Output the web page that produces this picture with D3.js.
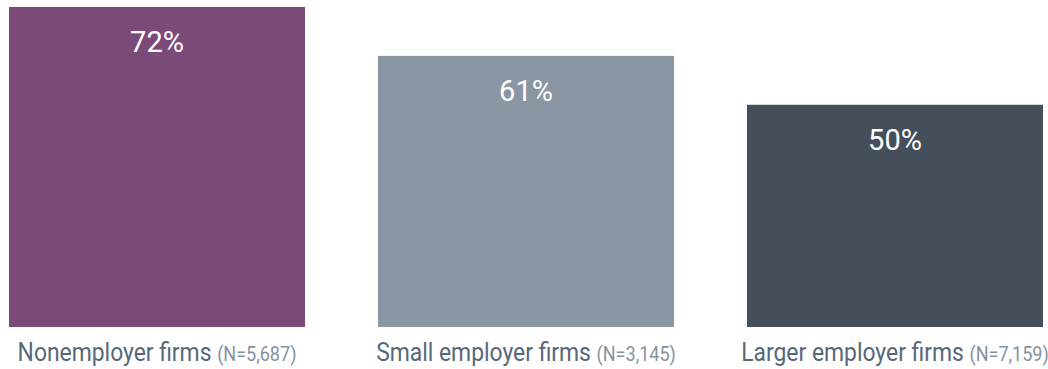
<!DOCTYPE html>
<html>
<head>
<meta charset="utf-8">
<script src="https://cdn.jsdelivr.net/npm/d3@7"></script>
<style>
  html, body { margin: 0; padding: 0; background: #ffffff; }
  svg { display: block; }
</style>
</head>
<body>
<svg id="chart" width="1048" height="369"></svg>
<script>
// Share of firms by employer size
const categories = ["Nonemployer firms", "Small employer firms", "Larger employer firms"];
const sampleSizes = ["(N=5,687)", "(N=3,145)", "(N=7,159)"];
const values = [72, 61, 50];
const colors = ["#7b4a78", "#8a96a3", "#444f5b"];

const svg = d3.select("#chart");

const x = d3.scaleBand()
  .domain(categories)
  .range([9, 1043])
  .paddingInner(73 / 369)
  .paddingOuter(0);

const y = d3.scaleLinear()
  .domain([0, 72])
  .range([327, 7]);

const data = categories.map((c, i) => ({ cat: c, n: sampleSizes[i], v: values[i], color: colors[i] }));

svg.selectAll("rect.bar")
  .data(data)
  .join("rect")
  .attr("class", "bar")
  .attr("x", d => x(d.cat))
  .attr("y", d => y(d.v))
  .attr("width", x.bandwidth())
  .attr("height", d => y(0) - y(d.v))
  .attr("fill", d => d.color);

svg.selectAll("text.value")
  .data(data)
  .join("text")
  .attr("class", "value")
  .attr("x", d => x(d.cat) + x.bandwidth() / 2)
  .attr("y", d => y(d.v) + 45)
  .attr("text-anchor", "middle")
  .attr("font-family", "Roboto, sans-serif")
  .attr("font-size", 29)
  .attr("fill", "#ffffff")
  .text(d => d.v + "%");

// Category labels under each bar, narrowed horizontally for a condensed look
const labels = svg.selectAll("g.label")
  .data(data)
  .join("g")
  .attr("class", "label")
  .attr("transform", d => `translate(${x(d.cat) + x.bandwidth() / 2},361) scale(0.88,1)`)
  .append("text")
  .attr("text-anchor", "middle")
  .attr("font-family", "Roboto, sans-serif");

labels.append("tspan")
  .attr("font-size", 26)
  .attr("fill", "#57687a")
  .text(d => d.cat + " ");

labels.append("tspan")
  .attr("font-size", 20.5)
  .attr("fill", "#8392a1")
  .text(d => d.n);
</script>
</body>
</html>
